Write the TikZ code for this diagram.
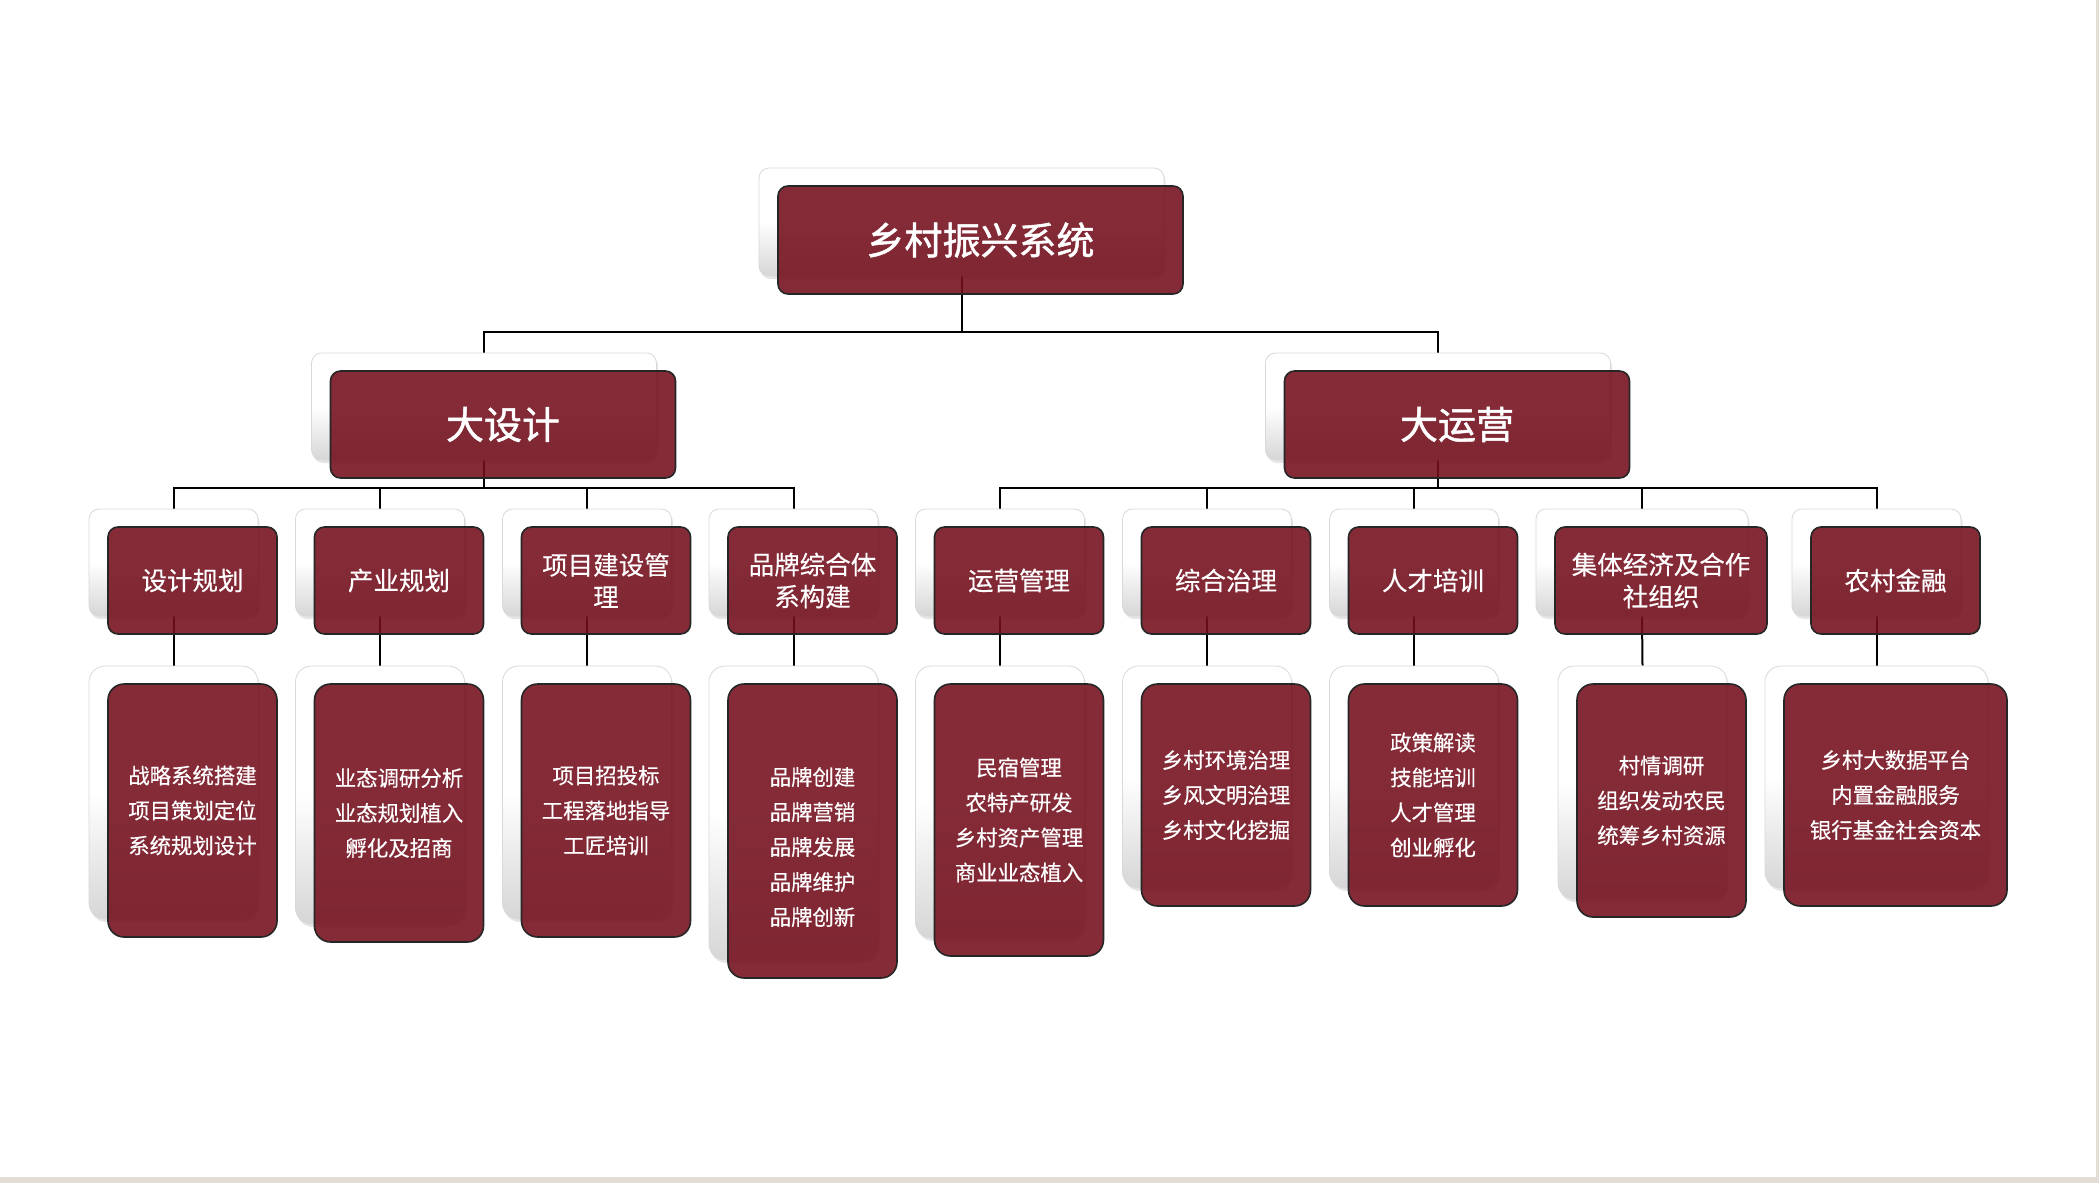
\documentclass[tikz,border=0pt]{standalone}
\usepackage{fontspec}
\newfontfamily\cjk{Noto Sans CJK SC}
\newfontfamily\cjkm[FakeBold=1.3]{Noto Sans CJK SC}
\newfontfamily\cjks[FakeBold=0.4]{Noto Sans CJK SC}
\usetikzlibrary{shadows}
\definecolor{wine}{RGB}{115,14,28}
\definecolor{strip}{RGB}{226,221,213}
\pgfdeclarelayer{back}
\pgfdeclarelayer{bg}
\pgfsetlayers{back,bg,main}
\tikzset{
  base/.style={rectangle, inner sep=0pt, align=center},
  wbox/.style={base, draw=black!15, line width=0.8pt, top color=white, bottom color=black!16, middle color=white,
    drop shadow={opacity=0.2, shadow xshift=1.5pt, shadow yshift=-3pt}},
  rbox/.style={base, draw=black!85, line width=1.6pt, fill=wine, fill opacity=0.88, text opacity=1, text=white},
  conn/.style={draw=black, line width=2pt},
  fontA/.style={font=\cjkm\fontsize{38}{46}\selectfont},
  fontC/.style={font=\cjks\fontsize{25.5}{32}\selectfont},
  fontD/.style={font=\cjks\fontsize{21.4}{35}\selectfont},
}
% #1 name, #2 cx, #3 cy, #4 w, #5 h, #6 radius, #7 font style, #8 text
\newcommand\pairbox[8]{%
  \node[wbox, rounded corners=#6, minimum width=#4, minimum height=#5] (s#1) at ({#2-19},{#3-18}) {};
  \node[rbox, rounded corners=#6, minimum width=#4, minimum height=#5, #7] (#1) at (#2,#3) {#8};
}
\begin{document}
\begin{tikzpicture}[x=1pt,y=-1pt]
\useasboundingbox (0,0) rectangle (2099,1183);
\begin{pgfonlayer}{back}
  \fill[white] (0,0) rectangle (2099,1183);
  \fill[strip] (2096,0) rectangle (2099,1183);
  \fill[strip] (0,1177) rectangle (2099,1183);
\end{pgfonlayer}

% level 1
\pairbox{T}{980.5}{240}{405}{108}{10pt}{fontA}{乡村振兴系统}
% level 2
\pairbox{D}{503}{424.5}{345}{107}{10pt}{fontA}{大设计}
\pairbox{Y}{1457}{424.5}{345}{107}{10pt}{fontA}{大运营}
% level 3
\pairbox{c1}{192.5}{580.5}{169}{107}{10pt}{fontC}{设计规划}
\pairbox{c2}{399}{580.5}{169}{107}{10pt}{fontC}{产业规划}
\pairbox{c3}{606}{580.5}{169}{107}{10pt}{fontC}{项目建设管\\理}
\pairbox{c4}{812.5}{580.5}{169}{107}{10pt}{fontC}{品牌综合体\\系构建}
\pairbox{c5}{1019}{580.5}{169}{107}{10pt}{fontC}{运营管理}
\pairbox{c6}{1226}{580.5}{169}{107}{10pt}{fontC}{综合治理}
\pairbox{c7}{1433}{580.5}{169}{107}{10pt}{fontC}{人才培训}
\pairbox{c8}{1661}{580.5}{212}{107}{10pt}{fontC}{集体经济及合作\\社组织}
\pairbox{c9}{1895.5}{580.5}{169}{107}{10pt}{fontC}{农村金融}
% level 4
\pairbox{d1}{192.5}{810.5}{169}{253}{16pt}{fontD}{战略系统搭建\\项目策划定位\\系统规划设计}
\pairbox{d2}{399}{813}{169}{258}{16pt}{fontD}{业态调研分析\\业态规划植入\\孵化及招商}
\pairbox{d3}{606}{810.5}{169}{253}{16pt}{fontD}{项目招投标\\工程落地指导\\工匠培训}
\pairbox{d4}{812.5}{831}{169}{294}{16pt}{fontD}{}
\node[fontD, text=white, align=center, inner sep=0pt] (d4t) at ([yshift=-16pt]d4.center)
  {品牌创建\\品牌营销\\品牌发展\\品牌维护\\品牌创新};
\pairbox{d5}{1019}{820}{169}{272}{16pt}{fontD}{民宿管理\\农特产研发\\乡村资产管理\\商业业态植入}
\pairbox{d6}{1226}{795}{169}{222}{16pt}{fontD}{乡村环境治理\\乡风文明治理\\乡村文化挖掘}
\pairbox{d7}{1433}{795}{169}{222}{16pt}{fontD}{政策解读\\技能培训\\人才管理\\创业孵化}
\pairbox{d8}{1661.5}{800.5}{169}{233}{16pt}{fontD}{村情调研\\组织发动农民\\统筹乡村资源}
\pairbox{d9}{1895.5}{795}{223}{222}{16pt}{fontD}{乡村大数据平台\\内置金融服务\\银行基金社会资本}

\begin{pgfonlayer}{bg}
  \coordinate (busA) at (0,332);
  \coordinate (busB) at (0,488);
  \draw[conn] (sT.south) -- (sT.south |- busA) -| (sD.north);
  \draw[conn] (sT.south |- busA) -| (sY.north);
  \foreach \c in {c1,c2,c3,c4}
    \draw[conn] (sD.south) -- (sD.south |- busB) -| (s\c.north);
  \foreach \c in {c5,c6,c7,c8,c9}
    \draw[conn] (sY.south) -- (sY.south |- busB) -| (s\c.north);
  \foreach \i in {1,...,9}
    \draw[conn] (sc\i.south) -- (sd\i.north);
\end{pgfonlayer}
\end{tikzpicture}
\end{document}
